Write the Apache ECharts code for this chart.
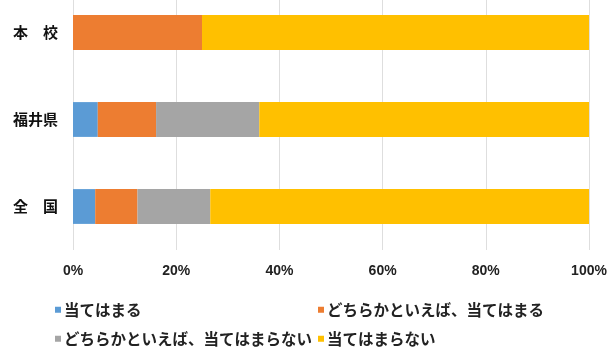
<!DOCTYPE html>
<html><head><meta charset="utf-8">
<script src="https://cdn.jsdelivr.net/npm/echarts@6/dist/echarts.min.js"></script>
<style>html,body{margin:0;padding:0;background:#fff}#c{width:608px;height:350px}</style>
</head><body><div id="c"></div>
<script>
var categories = ['本　校', '福井県', '全　国'];
var seriesNames = ['当てはまる', 'どちらかといえば、当てはまる', 'どちらかといえば、当てはまらない', '当てはまらない'];
var s1 = [0, 4.8, 4.3];
var s2 = [25, 11.3, 8.2];
var s3 = [0, 20.0, 14.1];
var s4 = [75, 63.9, 73.4];
var xTicks = [0, 20, 40, 60, 80, 100];
var colors = ['#5b9bd5', '#ed7d31', '#a5a5a5', '#ffc000'];
var values = [s1, s2, s3, s4];

var jp = '"Noto Sans CJK JP", sans-serif';
function lg(name, left, top) {
  return {
    data: [name], left: left, top: top, orient: 'horizontal',
    icon: 'rect', itemWidth: 6, itemHeight: 6, padding: 0,
    selectedMode: false,
    textStyle: { fontFamily: jp, fontSize: 15.5, fontWeight: 'bold', color: '#222', padding: [0, 0, 0, -2] }
  };
}
var chart = echarts.init(document.getElementById('c'), null, { renderer: 'canvas' });
chart.setOption({
  animation: false,
  color: colors,
  grid: { left: 73, right: 19, top: -11, bottom: 100, containLabel: false, outerBoundsMode: 'none' },
  xAxis: {
    type: 'value', min: 0, max: 100, interval: 20,
    axisLine: { show: false }, axisTick: { show: false },
    splitLine: { lineStyle: { color: '#dedede', width: 1 } },
    axisLabel: {
      margin: 14,
      formatter: function (v) { return xTicks.indexOf(v) >= 0 ? v + '%' : ''; },
      fontFamily: '"Liberation Sans Narrow", "Liberation Sans", sans-serif',
      fontWeight: 'bold', fontSize: 14, color: '#222'
    }
  },
  yAxis: {
    type: 'category', data: categories, inverse: true,
    axisLine: { show: false }, axisTick: { show: false },
    axisLabel: { margin: 15, fontFamily: jp, fontWeight: 'bold', fontSize: 15, color: '#111' }
  },
  legend: [lg(seriesNames[0], 55, 302), lg(seriesNames[1], 318, 302), lg(seriesNames[2], 55, 331), lg(seriesNames[3], 318, 331)],
  series: seriesNames.map(function (n, i) {
    return { name: n, type: 'bar', stack: 'total', barWidth: '40%', data: values[i], itemStyle: { color: colors[i] } };
  })
});
</script></body></html>
